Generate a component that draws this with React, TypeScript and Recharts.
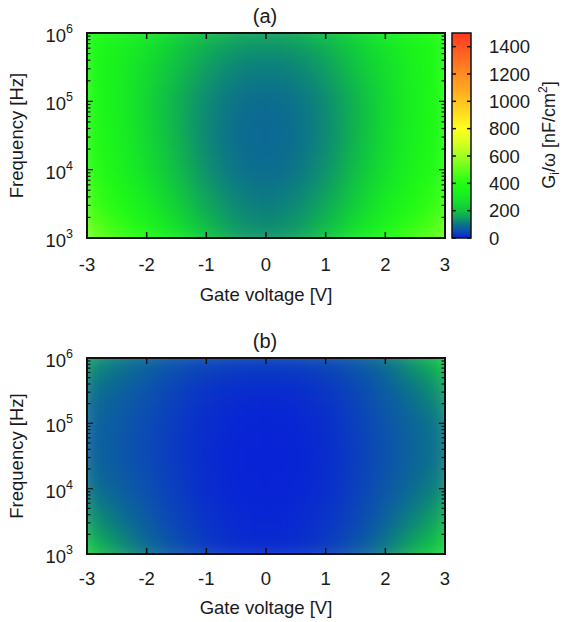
import React from 'react';
import { ScatterChart, Scatter, XAxis, YAxis, ReferenceArea, BarChart, Bar } from 'recharts';

// ---------- data ----------
const VOLTAGES = [-3, -2.5, -2, -1.5, -1, -0.5, 0, 0.5, 1, 1.5, 2, 2.5, 3];
// rows listed top (10^6 Hz) to bottom (10^3 Hz), as log10(frequency)
const LOG_FREQS = [6, 5.5, 5, 4.5, 4, 3.5, 3];

// G_i/omega [nF/cm^2], panel (a)
const GI_A = [
  [390, 345, 295, 235, 190, 162, 154, 162, 190, 240, 300, 355, 395],
  [390, 330, 260, 195, 148, 118, 110, 118, 148, 200, 265, 340, 395],
  [395, 330, 245, 175, 125, 96, 88, 96, 125, 178, 255, 335, 395],
  [405, 335, 255, 178, 122, 90, 82, 90, 122, 178, 258, 338, 400],
  [420, 350, 270, 192, 132, 98, 88, 98, 132, 192, 270, 350, 410],
  [460, 385, 310, 228, 160, 120, 106, 120, 158, 225, 308, 385, 450],
  [540, 455, 380, 295, 208, 150, 135, 150, 205, 290, 375, 450, 520],
];

// G_i/omega [nF/cm^2], panel (b)
const GI_B = [
  [150, 110, 80, 58, 45, 38, 36, 38, 45, 62, 95, 150, 215],
  [100, 75, 55, 35, 20, 12, 10, 12, 22, 40, 65, 100, 150],
  [80, 65, 45, 28, 14, 6, 4, 6, 15, 32, 55, 80, 110],
  [80, 62, 44, 26, 12, 4, 2, 4, 12, 30, 52, 78, 105],
  [100, 72, 50, 30, 14, 5, 3, 5, 14, 32, 58, 88, 125],
  [150, 100, 65, 38, 20, 9, 6, 9, 20, 40, 75, 120, 180],
  [230, 150, 95, 55, 30, 16, 12, 16, 30, 60, 110, 180, 250],
];

const X_TICKS = [-3, -2, -1, 0, 1, 2, 3];
const Y_DECADES = [3, 4, 5, 6];
const MINOR_MULT = [2, 3, 4, 5, 6, 7, 8, 9];
const CB_TICKS = [0, 200, 400, 600, 800, 1000, 1200, 1400];
const CB_MAX = 1500;

// colour palette: value -> colour
const PALETTE: [number, string][] = [
  [0, '#0820d8'],
  [50, '#0c50b0'],
  [100, '#0c7488'],
  [150, '#10a060'],
  [200, '#10c440'],
  [300, '#16ec24'],
  [400, '#20fe12'],
  [500, '#60ff18'],
  [600, '#a0ff20'],
  [700, '#d8ff20'],
  [800, '#ffff20'],
  [900, '#ffe020'],
  [1000, '#ffc420'],
  [1100, '#ffa420'],
  [1200, '#ff8c20'],
  [1300, '#ff7020'],
  [1400, '#ff5420'],
  [1500, '#ff3820'],
];

// ---------- helpers ----------
const hexToRgb = (h: string) => [parseInt(h.slice(1, 3), 16), parseInt(h.slice(3, 5), 16), parseInt(h.slice(5, 7), 16)];
function colorOf(v: number): string {
  if (v <= PALETTE[0][0]) return PALETTE[0][1];
  for (let i = 1; i < PALETTE.length; i++) {
    const [v1, c1] = PALETTE[i];
    const [v0, c0] = PALETTE[i - 1];
    if (v <= v1) {
      const t = (v - v0) / (v1 - v0);
      const a = hexToRgb(c0);
      const b = hexToRgb(c1);
      const m = a.map((x, k) => Math.round(x + (b[k] - x) * t));
      return `rgb(${m[0]},${m[1]},${m[2]})`;
    }
  }
  return PALETTE[PALETTE.length - 1][1];
}

const buildCells = (grid: number[][]) =>
  LOG_FREQS.flatMap((lf, r) => VOLTAGES.map((v, c) => ({ v, lf, g: grid[r][c] })));

const Y_TICKS = Y_DECADES.flatMap((d, i) =>
  i < Y_DECADES.length - 1 ? [d, ...MINOR_MULT.map((m) => d + Math.log10(m))] : [d]
);

// ---------- layout ----------
const FONT = '"Liberation Sans", Arial, Helvetica, sans-serif';
const TXT = '#1a1a1a';
const PL = 87;
const PR = 445;
const W = 562;
const V_MIN = -3, V_MAX = 3, LF_MIN = 3, LF_MAX = 6;

type Cfg = { id: string; title: string; top: number; height: number; pt: number; pb: number; grid: number[][]; tickDy: number; titleDy: number; headY: number };

const PANELS: Cfg[] = [
  { id: 'A', title: '(a)', top: 0, height: 310, pt: 33, pb: 238, grid: GI_A, tickDy: 33, titleDy: 63, headY: 23 },
  { id: 'B', title: '(b)', top: 310, height: 312, pt: 48, pb: 244, grid: GI_B, tickDy: 31, titleDy: 60, headY: 38 },
];

function HeatPanel({ cfg }: { cfg: Cfg }) {
  const { pt, pb } = cfg;
  const data = buildCells(cfg.grid);
  const cw = ((PR - PL) / (V_MAX - V_MIN)) * (VOLTAGES[1] - VOLTAGES[0]) + 0.6;
  const ch = ((pb - pt) / (LF_MAX - LF_MIN)) * (LOG_FREQS[0] - LOG_FREQS[1]) + 0.6;
  const XH = 60, YW = 60;

  const xTick = (p: any) => {
    const x = p.x;
    return (
      <g>
        <line x1={x} x2={x} y1={pb} y2={pb - 6} stroke="#111" strokeWidth={1.5} />
        <line x1={x} x2={x} y1={pt} y2={pt + 6} stroke="#111" strokeWidth={1.5} />
        <text x={x} y={pb + cfg.tickDy} textAnchor="middle" fontSize={18.5} fill={TXT} fontFamily={FONT}>
          {p.payload.value}
        </text>
      </g>
    );
  };
  const yTick = (p: any) => {
    const y = p.y;
    const val = p.payload.value;
    const major = Math.abs(val - Math.round(val)) < 1e-9;
    const len = major ? 6 : 3.5;
    return (
      <g>
        <line x1={PL} x2={PL + len} y1={y} y2={y} stroke="#111" strokeWidth={1.2} />
        <line x1={PR} x2={PR - len} y1={y} y2={y} stroke="#111" strokeWidth={1.2} />
        {major && (
          <text x={PL - 14} y={y + 9} textAnchor="end" fontSize={18.5} fill={TXT} fontFamily={FONT}>
            10<tspan dy={-9} fontSize={12.5}>{Math.round(val)}</tspan>
          </text>
        )}
      </g>
    );
  };
  const xLabel = () => (
    <g>
      <text x={(PL + PR) / 2} y={pb + cfg.titleDy} textAnchor="middle" fontSize={18.5} fill={TXT} fontFamily={FONT}>
        Gate voltage [V]
      </text>
      <text x={(PL + PR) / 2 - 1} y={cfg.headY} textAnchor="middle" fontSize={20} fill={TXT} fontFamily={FONT}>
        {cfg.title}
      </text>
    </g>
  );
  const yLabel = () => {
    const cy = (pt + pb) / 2;
    return (
      <text x={23} y={cy} transform={`rotate(-90 23 ${cy})`} textAnchor="middle" fontSize={18.5} fill={TXT} fontFamily={FONT}>
        Frequency [Hz]
      </text>
    );
  };
  const cellShape = (p: any) => (
    <rect x={p.cx - cw / 2} y={p.cy - ch / 2} width={cw} height={ch} fill={colorOf(p.payload.g)} stroke="none" />
  );

  return (
    <div style={{ position: 'absolute', left: 0, top: cfg.top, width: W, height: cfg.height }}>
      <ScatterChart
        width={W}
        height={cfg.height}
        margin={{ top: pt, right: W - PR, bottom: cfg.height - pb - XH, left: PL - YW }}
      >
        <Scatter data={data} dataKey="lf" className={`heat${cfg.id}`} shape={cellShape} isAnimationActive={false} />
        <XAxis
          type="number"
          dataKey="v"
          domain={[V_MIN, V_MAX]}
          ticks={X_TICKS}
          interval={0}
          allowDataOverflow
          height={XH}
          axisLine={false}
          tickLine={false}
          tick={xTick}
          label={xLabel}
        />
        <YAxis
          type="number"
          dataKey="lf"
          domain={[LF_MIN, LF_MAX]}
          ticks={Y_TICKS}
          interval={0}
          allowDataOverflow
          width={YW}
          axisLine={false}
          tickLine={false}
          tick={yTick}
          label={yLabel}
        />
        <ReferenceArea
          x1={V_MIN}
          x2={V_MAX}
          y1={LF_MIN}
          y2={LF_MAX}
          fill="none"
          fillOpacity={0}
          stroke="#111"
          strokeWidth={2}
          ifOverflow="visible"
          zIndex={2000}
        />
      </ScatterChart>
    </div>
  );
}

const CB_DATA = [{ name: 'scale', range: CB_MAX }];

function ColorBar() {
  const left = 440;
  const pt = 33, pb = 238;
  const cl = 452 - left, cr = 471 - left;
  const YW = 70;
  const h = 310;
  const tick = (p: any) => {
    const y = p.y;
    return (
      <g>
        <line x1={cl} x2={cl + 4} y1={y} y2={y} stroke="#111" strokeWidth={1.5} />
        <line x1={cr} x2={cr - 4} y1={y} y2={y} stroke="#111" strokeWidth={1.5} />
        <text x={489 - left} y={y + 6.5} textAnchor="start" fontSize={18.5} fill={TXT} fontFamily={FONT}>
          {p.payload.value}
        </text>
      </g>
    );
  };
  const label = () => {
    const bx = 555 - left;
    const cy = 135;
    return (
      <text x={bx} y={cy} transform={`rotate(-90 ${bx} ${cy})`} textAnchor="middle" fontSize={18} fill={TXT} fontFamily={FONT}>
        G<tspan dy={4} fontSize={12}>i</tspan>
        <tspan dy={-4}>/ω [nF/cm</tspan>
        <tspan dy={-8} fontSize={12}>2</tspan>
        <tspan dy={8}>]</tspan>
      </text>
    );
  };
  return (
    <div style={{ position: 'absolute', left, top: 0, width: W - left, height: h }}>
      <BarChart
        width={W - left}
        height={h}
        data={CB_DATA}
        barCategoryGap={0}
        margin={{ top: pt, right: W - left - cr - YW, bottom: h - pb, left: cl }}
      >
        <XAxis dataKey="name" hide />
        <Bar dataKey="range" fill="url(#cbGrad)" stroke="#111" strokeWidth={1.5} isAnimationActive={false} />
        <YAxis
          orientation="right"
          type="number"
          domain={[0, CB_MAX]}
          ticks={CB_TICKS}
          interval={0}
          width={YW}
          axisLine={false}
          tickLine={false}
          tick={tick}
          label={label}
        />
      </BarChart>
    </div>
  );
}

export default function App() {
  return (
    <div style={{ position: 'absolute', left: 0, top: 0, width: W, height: 622, background: '#fff', fontFamily: FONT }}>
      <style>{`.heatA{filter:url(#blurA);} .heatB{filter:url(#blurB);}`}</style>
      <svg width={0} height={0} style={{ position: 'absolute', left: 0, top: 0 }}>
        <defs>
          <filter id="blurA" filterUnits="userSpaceOnUse" x={PL} y={PANELS[0].pt} width={PR - PL} height={PANELS[0].pb - PANELS[0].pt} colorInterpolationFilters="sRGB">
            <feGaussianBlur stdDeviation={13} edgeMode="duplicate" />
          </filter>
          <filter id="blurB" filterUnits="userSpaceOnUse" x={PL} y={PANELS[1].pt} width={PR - PL} height={PANELS[1].pb - PANELS[1].pt} colorInterpolationFilters="sRGB">
            <feGaussianBlur stdDeviation={13} edgeMode="duplicate" />
          </filter>
          <linearGradient id="cbGrad" x1="0" y1="1" x2="0" y2="0">
            {PALETTE.map(([v, c]) => (
              <stop key={v} offset={v / CB_MAX} stopColor={c} />
            ))}
          </linearGradient>
        </defs>
      </svg>
      {PANELS.map((p) => (
        <HeatPanel key={p.id} cfg={p} />
      ))}
      <ColorBar />
    </div>
  );
}
